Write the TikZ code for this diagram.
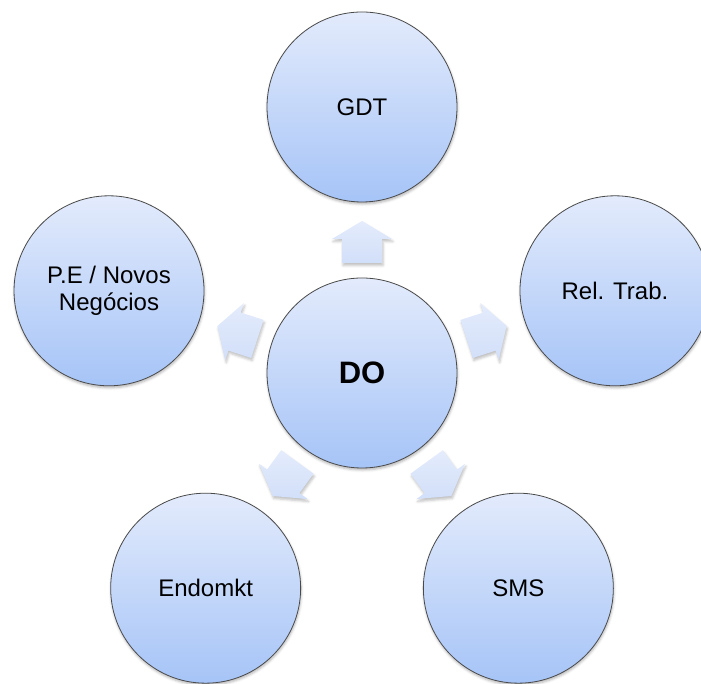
\documentclass[tikz,border=0pt]{standalone}
\usepackage{fontspec}
\setmainfont{Liberation Sans}
\usetikzlibrary{shadows.blur}
\definecolor{bubbletop}{HTML}{E3EBFC}
\definecolor{bubblebot}{HTML}{A6C4F7}
\definecolor{rimgray}{HTML}{4A4A4A}
\definecolor{arrowtop}{HTML}{E4ECFC}
\definecolor{arrowbot}{HTML}{D2DFF9}
\begin{document}
\begin{tikzpicture}[x=1pt,y=1pt,
  bubble/.style={circle, minimum size=190pt, inner sep=0pt,
    draw=rimgray, line width=0.8pt,
    top color=bubbletop, bottom color=bubblebot,
    blur shadow={shadow xshift=0.5pt, shadow yshift=-2pt,
      shadow blur radius=2.5pt, shadow opacity=30},
    font=\fontsize{24}{27}\selectfont, align=center},
  hub/.style={bubble, font=\bfseries\fontsize{31}{34}\selectfont},
  flowarrow/.style={top color=arrowtop, bottom color=arrowbot,
    blur shadow={shadow xshift=1pt, shadow yshift=-2.5pt,
      shadow blur radius=2.5pt, shadow opacity=25}}
]
\useasboundingbox (0,0) rectangle (701,684);
\clip (0,0) rectangle (701,684);

% centre of the cycle
\coordinate (c) at (362,311);

% outward arrows between the hub and each satellite
\foreach \ang in {90,18,162,234,306}{
  \begin{scope}[shift={(c)}, rotate=\ang-90]
    \path[flowarrow] (-20,110) -- (20,110) -- (20,134) -- (30,134)
      -- (0,152) -- (-30,134) -- (-20,134) -- cycle;
  \end{scope}
}

% hub and satellites
\node[hub] (do) at (c) {DO};
\node[bubble] (gdt) at ([shift={(90:266)}]c) {GDT};
\node[bubble] (rel) at ([shift={(18:266)}]c) {Rel. Trab.};
\node[bubble] (pe) at ([shift={(162:266)}]c) {P.E / Novos\\Negócios};
\node[bubble] (endo) at ([shift={(234:266)}]c) {Endomkt};
\node[bubble] (sms) at ([shift={(306:266)}]c) {SMS};
\end{tikzpicture}
\end{document}
